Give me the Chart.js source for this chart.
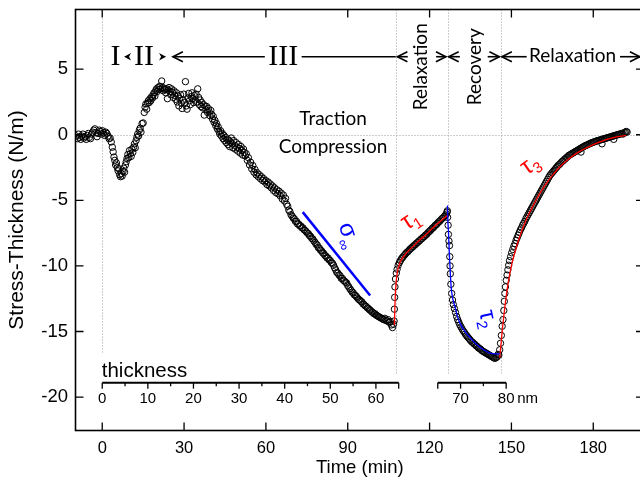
<!DOCTYPE html>
<html>
<head>
<meta charset="utf-8">
<script src="https://cdn.jsdelivr.net/npm/chart.js@4.4.0/dist/chart.umd.min.js"></script>
<style>
  html, body { margin: 0; padding: 0; background: #fff; overflow: hidden; width: 640px; height: 480px; }
  #wrap { position: relative; width: 670px; height: 480px; }
</style>
</head>
<body>
<div id="wrap"><canvas id="c"></canvas></div>
<script>
// ---- measured stress-thickness (N/m) versus time (min), as [time, value] ----
const growthCompression = [
  [-9.5,-0.1],[-9.1,-0.3],[-8.7,0.05],[-8.3,-0.2],[-7.9,-0.35],[-7.5,-0.1],[-7.1,0.05],[-6.7,-0.25],[-6.3,-0.15],[-5.9,-0.35],
  [-5.5,-0.05],[-5.1,0.1],[-4.7,-0.2],[-4.3,-0.3],[-3.9,0.05],[-3.5,0.2],[-3.1,0.35],[-2.7,0.45],[-2.3,0.15],[-1.9,-0.15],
  [-1.5,0.1],[-1.1,0.35],[-0.7,0.25],[-0.3,0.05],[0.1,0.3],[0.5,0.15],[0.9,-0.05],[1.3,0.2],[1.7,0.1],[2.1,-0.1],
  [2.5,-0.3],[2.9,-0.25],[3.3,-0.55],[3.7,-0.95],[4.0,-1.3],[4.3,-1.7],[4.6,-1.95],[4.9,-2.3],[5.2,-2.15],[5.5,-2.5],
  [5.8,-2.75],[6.1,-2.6],[6.4,-3.05],[6.7,-3.2],[7.0,-2.95],[7.3,-3.15],[7.6,-2.8],[7.9,-2.55],[8.2,-2.85],[8.5,-2.3],
  [8.8,-2.05],[9.1,-1.8],[9.4,-1.5],[9.7,-1.75],[10.0,-1.2],[10.3,-1.45],[10.6,-1.65],[10.9,-1.1],[11.2,-1.35],[11.5,-0.95],
  [11.8,-0.7],[12.1,-1.0],[12.4,-0.45],[12.7,-0.2],[13.0,0.05],[13.3,-0.1],[13.6,0.35],[13.9,0.5],[14.2,0.2],[14.6,0.85],
  [15.0,0.9],[15.4,1.7],[15.7,2.1],[16.0,2.35],[16.3,1.95],[16.6,2.4],[16.9,2.6],[17.2,2.45],[17.5,2.75],[17.8,2.6],
  [18.1,2.9],[18.4,2.8],[18.7,3.05],[19.0,3.2],[19.3,2.95],[19.6,3.35],[19.9,3.5],[20.2,3.3],[20.5,3.6],[20.8,3.45],
  [21.1,3.7],[21.4,3.5],[21.8,4.1],[22.1,3.6],[22.4,3.35],[22.7,3.55],[23.0,3.45],[23.3,3.2],[23.6,3.5],[23.9,2.75],
  [24.2,3.4],[24.5,3.6],[24.8,3.3],[25.1,3.05],[25.4,3.5],[25.7,3.25],[26.0,2.85],[26.3,3.35],[26.6,3.0],[26.9,2.7],
  [27.2,3.2],[27.5,2.5],[27.8,2.95],[28.1,2.2],[28.4,2.75],[28.7,3.05],[29.0,2.4],[29.3,2.0],[29.6,2.65],[29.9,3.1],
  [30.2,2.45],[30.5,4.05],[30.8,2.2],[31.1,1.95],[31.4,2.8],[31.7,3.15],[32.0,2.6],[32.3,2.3],[32.6,2.9],[32.9,3.2],
  [33.2,2.75],[33.5,2.45],[33.8,3.0],[34.1,2.65],[34.4,3.1],[34.7,2.5],[35.0,3.5],[35.3,2.85],[35.6,2.3],[35.9,2.65],
  [36.2,2.15],[36.5,2.45],[36.8,2.05],[37.1,2.3],[37.4,1.5],[37.7,2.2],[38.0,1.9],[38.3,2.15],[38.6,1.7],[38.9,2.0],
  [39.2,1.75],[39.5,1.45],[39.8,1.85],[40.1,1.55],[40.4,1.2],[40.7,1.4],[41.0,0.95],[41.3,1.1],[41.6,0.7],[41.9,0.85],
  [42.2,0.45],[42.5,0.6],[42.8,0.25],[43.1,0.05],[43.4,0.3],[43.7,-0.1],[44.0,0.1],[44.3,-0.3],[44.6,-0.05],[44.9,-0.45],
  [45.2,-0.2],[45.5,-0.6],[45.8,-0.35],[46.1,-0.75],[46.4,-0.4],[46.7,-0.9],[47.0,-0.55],[47.3,-0.25],[47.6,-0.7],[47.9,-1.0],
  [48.2,-0.45],[48.5,-0.8],[48.8,-1.1],[49.1,-0.6],[49.4,-0.95],[49.7,-1.25],[50.0,-0.75],[50.3,-1.05],[50.6,-1.4],[50.9,-0.9],
  [51.2,-1.2],[51.5,-1.55],[51.8,-1.1],[52.1,-1.35],[52.4,-1.6],[52.8,-1.45],[53.2,-1.95],[53.6,-1.75],[54.0,-2.3],[54.4,-2.1],
  [54.8,-2.6],[55.2,-2.35],[55.6,-2.85],[56.0,-2.65],[56.4,-3.05],[56.8,-2.9],[57.2,-3.2],[57.6,-3.05],[58.0,-3.35],[58.4,-3.2],
  [58.8,-3.5],[59.2,-3.35],[59.6,-3.6],[60.0,-3.5],[60.4,-3.8],[60.8,-3.6],[61.2,-3.9],[61.6,-3.75],[62.0,-4.05],[62.4,-3.9],
  [62.8,-4.25],[63.2,-4.05],[63.6,-4.4],[64.0,-4.2],[64.4,-4.5],[64.8,-4.3],[65.2,-4.65],[65.6,-4.45],[66.0,-4.9],[66.4,-4.6],
  [66.8,-5.05],[67.2,-4.85],[67.6,-5.3],[68.0,-5.45],[68.4,-5.75],[68.8,-5.85],[69.2,-6.1],[69.6,-6.2],[70.0,-6.35],[70.4,-6.4],
  [70.8,-6.6],[71.2,-6.6],[71.6,-6.8],[72.0,-6.8],[72.4,-6.95],[72.8,-6.95],[73.2,-7.1],[73.6,-7.1],[74.0,-7.25],[74.4,-7.3],
  [74.8,-7.4],[75.2,-7.5],[75.6,-7.55],[76.0,-7.7],[76.4,-7.75],[76.8,-7.9],[77.2,-7.95],[77.6,-8.1],[78.0,-8.2],[78.4,-8.35],
  [78.8,-8.4],[79.2,-8.6],[79.6,-8.65],[80.0,-8.8],[80.4,-8.85],[80.8,-9.0],[81.2,-9.05],[81.6,-9.2],[82.0,-9.25],[82.4,-9.4],
  [82.8,-9.4],[83.2,-9.55],[83.6,-9.6],[84.0,-9.75],[84.4,-9.8],[84.8,-9.95],[85.2,-10.15],[85.6,-10.3],[86.0,-10.5],[86.4,-10.55],
  [86.8,-10.7],[87.2,-10.75],[87.6,-10.95],[88.0,-10.95],[88.4,-11.1],[88.8,-11.15],[89.2,-11.25],[89.6,-11.3],[90.0,-11.5],[90.4,-11.6],
  [90.8,-11.75],[91.2,-11.85],[91.6,-12.0],[92.0,-12.05],[92.4,-12.2],[92.8,-12.25],[93.2,-12.35],[93.6,-12.45],[94.0,-12.55],[94.4,-12.6],
  [94.8,-12.7],[95.2,-12.75],[95.6,-12.9],[96.0,-12.95],[96.4,-13.05],[96.8,-13.1],[97.2,-13.2],[97.6,-13.25],[98.0,-13.35],[98.4,-13.4],
  [98.8,-13.5],[99.2,-13.55],[99.6,-13.65],[100.0,-13.65],[100.4,-13.75],[100.8,-13.8],[101.2,-13.85],[101.6,-13.9],[102.0,-13.95],[102.4,-14.0],
  [102.8,-14.05],[103.2,-14.1],[103.6,-14.0],[104.0,-14.15],[104.4,-14.2],[104.8,-14.1],[105.2,-14.3],[105.6,-14.25],[106.0,-14.5],[106.4,-14.7],
  [106.8,-14.45]
];

const relaxation1 = [
  [107.0,-14.2],[107.1,-13.3],[107.2,-12.4],[107.3,-11.6],[107.5,-11.0],[107.8,-10.55],[108.1,-10.25],[108.5,-9.95],[108.9,-9.75],[109.3,-9.6],
  [109.7,-9.45],[110.1,-9.35],[110.5,-9.25],[110.9,-9.15],[111.3,-9.05],[111.7,-8.95],[112.1,-8.9],[112.5,-8.8],[112.9,-8.7],[113.3,-8.65],
  [113.7,-8.55],[114.1,-8.5],[114.5,-8.4],[114.9,-8.35],[115.3,-8.25],[115.7,-8.2],[116.1,-8.1],[116.5,-8.05],[116.9,-7.95],[117.3,-7.9],
  [117.7,-7.8],[118.1,-7.75],[118.5,-7.65],[118.9,-7.6],[119.3,-7.5],[119.7,-7.4],[120.1,-7.35],[120.5,-7.25],[120.9,-7.15],[121.3,-7.1],
  [121.7,-7.0],[122.1,-6.9],[122.5,-6.85],[122.9,-6.75],[123.3,-6.65],[123.7,-6.6],[124.1,-6.5],[124.5,-6.4],[124.9,-6.35],[125.3,-6.25],
  [125.7,-6.15],[126.1,-6.05],[126.4,-5.9]
];

const recovery = [
  [126.5,-5.8],[126.6,-6.3],[126.8,-6.9],[126.9,-7.6],[127.1,-8.1],[127.3,-8.45],[127.4,-9.3],[127.5,-10.0],[127.6,-10.6],[127.8,-11.4],
  [128.1,-12.1],[128.4,-12.6],[128.7,-12.95],[129.1,-13.25],[129.5,-13.55],[129.9,-13.85],[130.3,-14.1],[130.7,-14.3],[131.1,-14.5],[131.5,-14.65],
  [131.9,-14.8],[132.3,-14.95],[132.7,-15.05],[133.1,-15.2],[133.5,-15.3],[133.9,-15.4],[134.3,-15.5],[134.7,-15.6],[135.1,-15.7],[135.5,-15.8],
  [135.9,-15.85],[136.3,-15.95],[136.7,-16.0],[137.1,-16.1],[137.5,-16.15],[137.9,-16.25],[138.3,-16.3],[138.7,-16.35],[139.1,-16.45],[139.5,-16.5],
  [139.9,-16.55],[140.3,-16.6],[140.7,-16.65],[141.1,-16.7],[141.5,-16.75],[141.9,-16.8],[142.3,-16.85],[142.7,-16.9],[143.1,-16.95],[143.5,-17.0],
  [143.9,-17.05],[144.3,-17.0],[144.7,-16.95],[145.1,-16.75]
];

const relaxation2 = [
  [145.4,-16.8],[145.7,-16.4],[146.0,-15.9],[146.3,-15.3],[146.6,-14.6],[146.9,-14.1],[147.2,-13.4],[147.4,-12.7],[147.6,-12.1],[147.8,-11.6],
  [148.1,-11.1],[148.4,-10.7],[148.7,-10.3],[149.0,-9.95],[149.3,-9.6],[149.7,-9.3],[150.1,-9.0],[150.5,-8.75],[150.9,-8.5],[151.3,-8.3],
  [151.7,-8.05],[152.1,-7.85],[152.5,-7.65],[152.9,-7.45],[153.3,-7.25],[153.7,-7.1],[154.1,-6.9],[154.5,-6.75],[154.9,-6.6],[155.3,-6.4],
  [155.7,-6.25],[156.1,-6.1],[156.5,-5.95],[156.9,-5.8],[157.3,-5.65],[157.7,-5.5],[158.1,-5.35],[158.5,-5.2],[158.9,-5.05],[159.3,-4.9],
  [159.7,-4.75],[160.1,-4.6],[160.5,-4.45],[160.9,-4.3],[161.3,-4.15],[161.7,-4.0],[162.1,-3.85],[162.5,-3.7],[162.9,-3.55],[163.3,-3.4],
  [163.7,-3.25],[164.1,-3.1],[164.5,-3.0],[164.9,-2.9],[165.3,-2.8],[165.7,-2.7],[166.1,-2.6],[166.5,-2.5],[166.9,-2.4],[167.3,-2.3],
  [167.7,-2.25],[168.1,-2.15],[168.5,-2.05],[168.9,-2.0],[169.3,-1.9],[169.7,-1.85],[170.1,-1.75],[170.5,-1.7],[170.9,-1.6],[171.3,-1.55],
  [171.7,-1.5],[172.1,-1.45],[172.5,-1.4],[172.9,-1.35],[173.3,-1.3],[173.7,-1.25],[174.1,-1.2],[174.5,-1.15],[174.9,-1.1],[175.3,-1.05],
  [175.5,-1.32],[175.7,-1.0],[176.1,-0.95],[176.5,-0.9],[176.9,-0.85],[177.3,-0.82],[177.7,-0.78],[178.1,-0.74],[178.5,-0.7],[178.9,-0.66],
  [179.3,-0.62],[179.7,-0.6],[180.1,-0.56],[180.5,-0.53],[180.9,-0.5],[181.3,-0.47],[181.7,-0.45],[182.1,-0.42],[182.5,-0.4],[182.9,-0.37],
  [183.2,-0.69],[183.3,-0.35],[183.7,-0.32],[184.1,-0.3],[184.5,-0.27],[184.9,-0.25],[185.3,-0.22],[185.7,-0.2],[186.1,-0.18],[186.5,-0.15],
  [186.9,-0.12],[187.3,-0.1],[187.5,-0.35],[187.7,-0.07],[188.1,-0.05],[188.5,-0.02],[188.9,0.0],[189.3,0.02],[189.7,0.05],[190.1,0.07],
  [190.5,0.1],[190.9,0.05],[191.3,0.15],[191.7,0.2],[192.1,0.25],[192.4,0.2]
];

// ---- fitted relaxation / recovery curves and the steady-state slope ----
const fitTau1 = [[107.1,-14.5],[107.3,-13.0],[107.5,-12.0],[107.8,-11.1],[108.2,-10.45],[108.8,-9.95],[109.6,-9.55],[110.8,-9.2],
  [112.5,-8.8],[114.5,-8.4],[116.5,-8.0],[118.5,-7.65],[120.5,-7.25],[122.5,-6.85],[124.5,-6.5],[126.4,-6.15]];
const fitTau2 = [[126.55,-5.4],[126.7,-6.6],[126.9,-7.3],[127.3,-9.3],[127.9,-11.6],[128.5,-12.5],[129.35,-13.14],[130.2,-13.85],
  [131.2,-14.4],[132.8,-14.95],[134.8,-15.45],[136.5,-15.85],[138.5,-16.2],[140.3,-16.45],[142.2,-16.65],[144.0,-16.7],[145.8,-16.7]];
const fitTau3 = [[145.7,-17.0],[146.2,-15.9],[146.8,-14.6],[147.5,-13.3],[148.3,-12.0],[149.2,-10.8],[150.2,-9.8],[151.5,-8.8],
  [153.0,-7.8],[155.0,-6.7],[157.0,-5.8],[159.5,-4.8],[162.0,-3.95],[165.0,-3.1],[168.0,-2.4],[171.0,-1.85],[174.0,-1.4],
  [177.0,-1.05],[180.0,-0.75],[183.0,-0.5],[186.0,-0.3],[189.0,-0.15],[192.0,-0.05]];
const sigmaInfinity = [[73.5,-5.9],[98.2,-12.25]];

// ---- axes ----
const timeTicks = [0, 30, 60, 90, 120, 150, 180];
const stressTicks = [-20, -15, -10, -5, 0, 5];
const phaseBounds = [0, 107.6, 126.6, 146.0];          // start of growth, growth stop, growth restart, growth stop
const thicknessLabels = [0, 10, 20, 30, 40, 50, 60, 70, 80];
const thicknessSegments = [{from: 0, to: 65, atTime: 0}, {from: 65, to: 80, atTime: 123.0}];
const minutesPerNm = 1.672;

Chart.defaults.font.family = "'Liberation Sans', Arial, sans-serif";
Chart.defaults.color = '#000';

const SANS2 = "Lato, 'Open Sans', sans-serif";
const SERIF = "'Liberation Serif', 'DejaVu Serif', serif";

function nmToTime(nm, seg) { return seg.atTime + (nm - seg.from) * minutesPerNm; }

function arrowHead(ctx, tipX, yy, dir, len, half) {
  ctx.beginPath();
  ctx.moveTo(tipX - dir * len, yy - half);
  ctx.lineTo(tipX, yy);
  ctx.lineTo(tipX - dir * len, yy + half);
  ctx.stroke();
}
function solidHead(ctx, tipX, yy, dir) {
  ctx.beginPath();
  ctx.moveTo(tipX, yy);
  ctx.lineTo(tipX - dir * 7, yy - 3.8);
  ctx.lineTo(tipX - dir * 5, yy);
  ctx.lineTo(tipX - dir * 7, yy + 3.8);
  ctx.closePath();
  ctx.fill();
}
function hline(ctx, x1, x2, yy) { ctx.beginPath(); ctx.moveTo(x1, yy); ctx.lineTo(x2, yy); ctx.stroke(); }

function rotText(ctx, parts, x0, y0, angleDeg, color) {
  ctx.save();
  ctx.translate(x0, y0);
  ctx.rotate(angleDeg * Math.PI / 180);
  ctx.fillStyle = color;
  ctx.textBaseline = 'alphabetic';
  ctx.textAlign = 'left';
  let cx = 0;
  parts.forEach(p => {
    ctx.font = p.font;
    ctx.fillText(p.text, cx, p.dy || 0);
    cx += ctx.measureText(p.text).width;
  });
  ctx.restore();
}

// keeps the plot area exactly where the axis boxes say, without label overhang padding
function noOverhang(s) { s.paddingTop = 0; s.paddingBottom = 0; s.paddingLeft = 0; s.paddingRight = 0; }

const decor = {
  id: 'decor',
  beforeDatasetsDraw(chart) {
    const {ctx, chartArea: a, scales: {x, y}} = chart;
    const guideEnds = [-16.6, -18.3, -18.2, -18.2];
    ctx.save();
    ctx.strokeStyle = '#9c9c9c';
    ctx.lineWidth = 1;
    ctx.setLineDash([1, 2]);
    const y0 = Math.round(y.getPixelForValue(0)) + 0.5;
    hline(ctx, a.left, a.right, y0);
    phaseBounds.forEach((t, i) => {
      const xp = Math.round(x.getPixelForValue(t)) + 0.5;
      ctx.beginPath();
      ctx.moveTo(xp, a.top);
      ctx.lineTo(xp, y.getPixelForValue(guideEnds[i]));
      ctx.stroke();
    });
    ctx.restore();
  },
  afterDatasetsDraw(chart) {
    const {ctx, chartArea: a, scales: {x, y}} = chart;
    const X = v => x.getPixelForValue(v);
    const Y = v => y.getPixelForValue(v);
    ctx.save();

    // frame and inward ticks
    ctx.strokeStyle = '#000';
    ctx.lineWidth = 1.6;
    ctx.strokeRect(a.left, a.top, a.right - a.left, a.bottom - a.top);
    ctx.lineWidth = 1.3;
    x.ticks.forEach(tk => {
      const xp = X(tk.value);
      ctx.beginPath();
      ctx.moveTo(xp, a.bottom); ctx.lineTo(xp, a.bottom - 8);
      ctx.moveTo(xp, a.top); ctx.lineTo(xp, a.top + 8);
      ctx.stroke();
    });
    y.ticks.forEach(tk => {
      const yp = Y(tk.value);
      ctx.beginPath();
      ctx.moveTo(a.left, yp); ctx.lineTo(a.left + 8, yp);
      ctx.moveTo(a.right, yp); ctx.lineTo(a.right - 8, yp);
      ctx.stroke();
    });

    // thickness scale drawn inside the plot
    const ya = Y(-18.9);
    ctx.lineWidth = 2;
    thicknessSegments.forEach(seg => {
      hline(ctx, X(nmToTime(seg.from, seg)), X(nmToTime(seg.to, seg)), ya);
      ctx.lineWidth = 1.3;
      for (let nm = seg.from; nm <= seg.to; nm += 5) {
        const xp = X(nmToTime(nm, seg));
        const major = nm % 10 === 0 || nm === seg.from || nm === seg.to;
        ctx.beginPath();
        ctx.moveTo(xp, ya); ctx.lineTo(xp, ya + (major ? 6 : 3.5));
        ctx.stroke();
      }
      ctx.lineWidth = 2;
    });
    ctx.fillStyle = '#000';
    ctx.font = "15px 'Liberation Sans', Arial, sans-serif";
    ctx.textAlign = 'center';
    ctx.textBaseline = 'alphabetic';
    let lastX = 0;
    thicknessLabels.forEach(nm => {
      const seg = thicknessSegments.find(s => nm >= s.from && nm < s.to) || thicknessSegments[thicknessSegments.length - 1];
      const xp = X(nmToTime(nm, seg));
      ctx.fillText(String(nm), xp, ya + 20.5);
      lastX = xp;
    });
    ctx.textAlign = 'left';
    ctx.fillText('nm', lastX + 11, ya + 20.5);
    ctx.font = "20.5px 'Liberation Sans', Arial, sans-serif";
    ctx.fillText('thickness', X(0) - 0.5, Y(-18.45));

    // growth regime labels and arrows
    const ar = Y(5.95);
    ctx.strokeStyle = '#000';
    ctx.fillStyle = '#000';
    ctx.lineWidth = 1.6;
    ctx.font = '30px ' + SERIF;
    ctx.textAlign = 'center';
    ctx.fillText('I', X(4.84), Y(5.3));
    ctx.fillText('II', X(15.34), Y(5.3));
    ctx.fillText('III', X(66.35), Y(5.3));
    solidHead(ctx, X(8.0), ar, -1);
    solidHead(ctx, X(23.4), ar, 1);
    hline(ctx, X(25.9), X(59.6), ar);
    arrowHead(ctx, X(25.9), ar, -1, 10, 5);
    hline(ctx, X(73.1), X(107.6), ar);

    // stop / restart spans
    hline(ctx, X(108.2), X(112.0), ar); arrowHead(ctx, X(108.2), ar, -1, 10, 5);
    hline(ctx, X(122.4), X(126.0), ar); arrowHead(ctx, X(126.0), ar, 1, 10, 5);
    hline(ctx, X(127.0), X(131.1), ar); arrowHead(ctx, X(127.0), ar, -1, 10, 5);
    hline(ctx, X(141.3), X(145.6), ar); arrowHead(ctx, X(145.6), ar, 1, 10, 5);
    hline(ctx, X(146.5), X(155.6), ar); arrowHead(ctx, X(146.5), ar, -1, 10, 5);
    hline(ctx, X(189.8), X(197.1), ar); arrowHead(ctx, X(197.1), ar, 1, 10, 5);

    ctx.font = '19px ' + SANS2;
    ctx.textAlign = 'center';
    ctx.textBaseline = 'alphabetic';
    ctx.fillText('Relaxation', X(172.4), Y(5.55));
    ctx.fillText('Traction', X(84.6), Y(0.72));
    ctx.fillText('Compression', X(84.6), Y(-1.41));
    [['Relaxation', 116.7], ['Recovery', 136.7]].forEach(([txt, t]) => {
      ctx.save();
      ctx.translate(X(t), Y(5.18));
      ctx.rotate(-Math.PI / 2);
      ctx.textBaseline = 'middle';
      ctx.fillText(txt, 0, 0);
      ctx.restore();
    });

    // fit parameter labels
    const g = "'Liberation Sans', Arial, sans-serif";
    rotText(ctx, [{text: 'σ', font: '24px ' + g}, {text: '∞', font: '15px ' + g, dy: 6}], X(86.6), Y(-6.9), 72, '#0000ff');
    rotText(ctx, [{text: 'τ', font: '24px ' + g}, {text: '1', font: '15px ' + g, dy: 5}], X(111.6), Y(-7.3), -33, '#ff0000');
    rotText(ctx, [{text: 'τ', font: '24px ' + g}, {text: '2', font: '15px ' + g, dy: 5}], X(138.2), Y(-13.5), 78, '#0000ff');
    rotText(ctx, [{text: 'τ', font: '24px ' + g}, {text: '3', font: '15px ' + g, dy: 5}], X(155.6), Y(-3.1), -35, '#ff0000');

    ctx.restore();
  }
};

const pointLook = {
  showLine: false, pointRadius: 3.2, pointBorderWidth: 1, pointBorderColor: '#000',
  pointBackgroundColor: 'rgba(0,0,0,0)', order: 3
};
const fitLook = { showLine: true, pointRadius: 0, borderWidth: 1.3, cubicInterpolationMode: 'monotone', fill: false, order: 1 };

new Chart(document.getElementById('c'), {
  type: 'scatter',
  data: {
    datasets: [
      { label: 'growth', data: growthCompression, ...pointLook },
      { label: 'relaxation 1', data: relaxation1, ...pointLook },
      { label: 'recovery', data: recovery, ...pointLook },
      { label: 'relaxation 2', data: relaxation2, ...pointLook },
      { label: 'τ1 fit', data: fitTau1, borderColor: '#ff0000', ...fitLook },
      { label: 'τ2 fit', data: fitTau2, borderColor: '#0000ff', ...fitLook },
      { label: 'τ3 fit', data: fitTau3, borderColor: '#ff0000', ...fitLook },
      { label: 'σ∞', data: sigmaInfinity, borderColor: '#0000ff', showLine: true, pointRadius: 0, borderWidth: 2.5, order: 0 }
    ]
  },
  options: {
    responsive: true,
    maintainAspectRatio: false,
    animation: false,
    devicePixelRatio: 1,
    layout: { padding: { top: 9.5, right: 26, left: 0, bottom: 0 } },
    plugins: { legend: { display: false }, tooltip: { enabled: false } },
    scales: {
      x: {
        type: 'linear', min: -9.8, max: 198.6,
        afterBuildTicks: s => { s.ticks = timeTicks.map(v => ({ value: v })); },
        afterFit: s => { s.height = 49.5; noOverhang(s); },
        grid: { display: false, drawTicks: false },
        border: { display: false },
        ticks: { font: { size: 16.5 }, color: '#000', padding: 8, maxRotation: 0, autoSkip: false },
        title: { display: true, text: 'Time (min)', font: { size: 18.5 }, color: '#000', padding: { top: 0, bottom: 1 } }
      },
      y: {
        type: 'linear', min: -22.55, max: 9.55,
        afterBuildTicks: s => { s.ticks = stressTicks.map(v => ({ value: v })); },
        afterFit: s => { s.width = 75.5; noOverhang(s); },
        grid: { display: false, drawTicks: false },
        border: { display: false },
        ticks: { font: { size: 18.5 }, color: '#000', padding: 7.5, autoSkip: false },
        title: { display: true, text: 'Stress-Thickness (N/m)', font: { size: 21 }, color: '#000', padding: { top: 5, bottom: 0 } }
      }
    }
  },
  plugins: [decor]
});
</script>
</body>
</html>
